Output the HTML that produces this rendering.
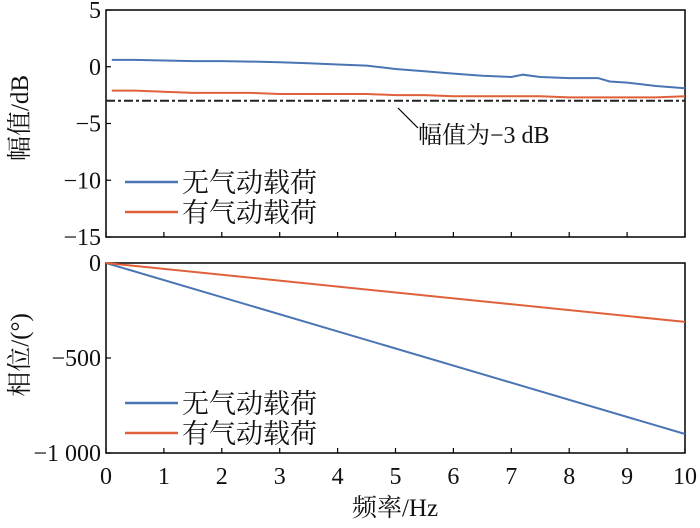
<!DOCTYPE html>
<html><head><meta charset="utf-8"><style>
body{margin:0;background:#fff}
svg text{font-family:"Liberation Serif","Noto Serif CJK SC",serif;fill:#111}
</style></head><body>
<svg id="c" width="700" height="523"></svg>
<script>
const freqs=[0.1,0.5,1,1.5,2,2.5,3,3.5,4,4.5,5,5.5,6,6.5,7,7.2,7.5,8,8.5,8.7,9,9.5,10];
const magNoAir=[0.6,0.6,0.55,0.5,0.5,0.45,0.4,0.3,0.2,0.1,-0.2,-0.4,-0.6,-0.8,-0.9,-0.7,-0.9,-1.0,-1.0,-1.3,-1.4,-1.7,-1.9];
const magAir=[-2.1,-2.1,-2.2,-2.3,-2.3,-2.3,-2.4,-2.4,-2.4,-2.4,-2.5,-2.5,-2.6,-2.6,-2.6,-2.6,-2.6,-2.7,-2.7,-2.7,-2.7,-2.7,-2.6];
const phFreqs=[0,10];
const phNoAir=[0,-900];
const phAir=[0,-310];
const xTicks=[0,1,2,3,4,5,6,7,8,9,10];
const magTicks=[5,0,-5,-10,-15];
const phTicks=[0,-500,-1000];
const phTickLabels=["0","−500","−1 000"];
const NS="http://www.w3.org/2000/svg",svg=document.getElementById('c');
function mk(t,a,p){const e=document.createElementNS(NS,t);for(const k in a)e.setAttribute(k,a[k]);(p||svg).appendChild(e);return e;}
const X0=106,X1=685;
const x=v=>X0+(X1-X0)*v/10;
const ym=v=>10+(5-v)*(237-10)/20;
const yp=v=>263+(0-v)*(453-263)/1000;
function line(xs,ys,fx,fy,col,name){const d=xs.map((v,i)=>(i?'L':'M')+fx(v).toFixed(1)+','+fy(ys[i]).toFixed(1)).join('');const e=mk('path',{d,fill:'none',stroke:col,'stroke-width':2});

}
function axes(top,bot,ticks,fy,labels,name){
 const g=mk('g',{});
 
 
 mk('rect',{x:X0,y:top,width:X1-X0,height:bot-top,fill:'none',stroke:'#000','stroke-width':1.5},g);
 xTicks.forEach(t=>{mk('line',{x1:x(t),x2:x(t),y1:bot,y2:bot-5,stroke:'#000','stroke-width':1.2},g);});
 ticks.forEach((t,i)=>{mk('line',{x1:X0,x2:X0+5,y1:fy(t),y2:fy(t),stroke:'#000','stroke-width':1.2},g);
  const tx=mk('text',{x:X0-5,y:fy(t)+8,'text-anchor':'end','font-size':24},g);tx.textContent=labels[i];
  
  });
}
axes(10,237,magTicks,ym,["5","0","−5","−10","−15"],'magnitude-axes');
axes(263,453,phTicks,yp,phTickLabels,'phase-axes');
xTicks.forEach(t=>{const tx=mk('text',{x:x(t),y:484,'text-anchor':'middle','font-size':24});tx.textContent=t;

});
const r=mk('line',{x1:X0,x2:X1,y1:ym(-3),y2:ym(-3),stroke:'#222','stroke-width':2,'stroke-dasharray':'9,3,3,3'});


line(freqs,magNoAir,x,ym,'#4a74b4','magnitude-no-air');
line(freqs,magAir,x,ym,'#e0603a','magnitude-air');
line(phFreqs,phNoAir,x,yp,'#4a74b4','phase-no-air');
line(phFreqs,phAir,x,yp,'#e0603a','phase-air');
const an=mk('path',{d:'M398,108 L418,128',stroke:'#000','stroke-width':1.2,fill:'none'});


const at=mk('text',{x:418,y:143,'font-size':24});at.textContent='幅值为−3 dB';


function legend(y0,name){[['无气动载荷','#4a74b4'],['有气动载荷','#e0603a']].forEach((it,i)=>{
 const g=mk('g',{});
 
 
 mk('line',{x1:125,x2:178,y1:y0+i*30,y2:y0+i*30,stroke:it[1],'stroke-width':2.5},g);
 const t=mk('text',{x:182,y:y0+i*30+10,'font-size':27},g);t.textContent=it[0];});}
legend(182,'magnitude-legend');legend(403,'phase-legend');
function ylab(txt,cy,name){const t=mk('text',{x:0,y:0,'font-size':25,'text-anchor':'middle',transform:`translate(28,${cy}) rotate(-90)`});t.textContent=txt;

}
ylab('幅值/dB',118,'magnitude-y-title');ylab('相位/(°)',355,'phase-y-title');
const xl=mk('text',{x:395,y:516,'text-anchor':'middle','font-size':25});xl.textContent='频率/Hz';


</script>
</body></html>
